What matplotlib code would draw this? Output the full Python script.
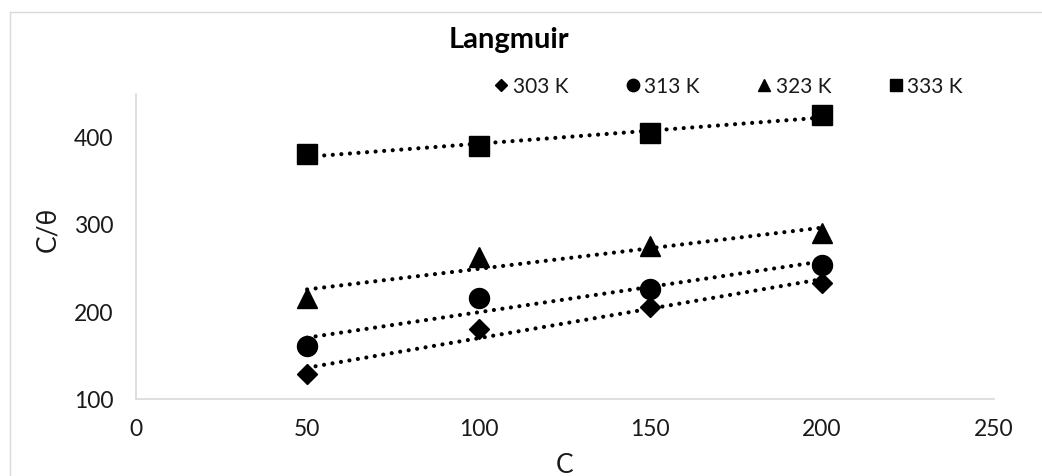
import numpy as np
import matplotlib
matplotlib.use('Agg')
import matplotlib.pyplot as plt
from matplotlib.lines import Line2D

plt.rcParams['font.family'] = ['Lato', 'DejaVu Sans']

conc = [50, 100, 150, 200]
series_labels = ['303 K', '313 K', '323 K', '333 K']
series_markers = ['D', 'o', '^', 's']
series_msize = [10.2, 14.4, 14.4, 14.4]
c_theta = [
    [128, 180, 205, 232],
    [160, 215, 226, 253],
    [215, 262, 275, 289],
    [379, 389, 403, 424],
]
x_ticks = [0, 50, 100, 150, 200, 250]
y_ticks = [100, 200, 300, 400]

W, H = 1042, 477
fig = plt.figure(figsize=(W / 100, H / 100), dpi=100)

# chart area border (top and left edges visible)
grey = '#D9D9D9'
fig.add_artist(Line2D([10 / W, 10 / W], [0, 1 - 13 / H], color=grey, lw=1.0,
                      transform=fig.transFigure))
fig.add_artist(Line2D([10 / W, 1], [1 - 13 / H, 1 - 13 / H], color=grey, lw=1.0,
                      transform=fig.transFigure))

left, right = 135.5 / W, 993.5 / W
bottom, top = 1 - 400 / H, 1 - 95 / H
ax = fig.add_axes([left, bottom, right - left, top - bottom])

for idx, lab in enumerate(series_labels):
    ys = c_theta[idx]
    ax.plot(conc, ys, linestyle='none', marker=series_markers[idx],
            markersize=series_msize[idx], color='black', label=lab, zorder=3)
    # linear trendline
    k, b = np.polyfit(conc, ys, 1)
    xs = np.array([conc[0], conc[-1]])
    ax.plot(xs, k * xs + b, color='black', lw=3.0,
            linestyle=(0, (0.01, 2.05)), dash_capstyle='round', zorder=2)

ax.set_xlim(0, 250)
ax.set_ylim(100, 448)
ax.set_xticks(x_ticks)
ax.set_yticks(y_ticks)
ax.tick_params(length=0, labelsize=16.5, colors='#1a1a1a')
ax.tick_params(axis='x', pad=14)
ax.tick_params(axis='y', pad=16)
for s in ['top', 'right']:
    ax.spines[s].set_visible(False)
for s in ['left', 'bottom']:
    ax.spines[s].set_color(grey)
    ax.spines[s].set_linewidth(1.2)

ax.set_xlabel('C', fontsize=19, color='#1a1a1a')
ax.set_ylabel('C/θ', fontsize=19, color='#1a1a1a')
ax.xaxis.set_label_coords(0.5, -0.175)
ax.yaxis.set_label_coords(-0.088, 0.559)

fig.text(509 / W, 1 - 40 / H, 'Langmuir', ha='center', va='center',
         fontsize=21, fontweight='bold', color='black')

leg = ax.legend(loc='center', bbox_to_anchor=(729 / W, 1 - 87 / H),
                bbox_transform=fig.transFigure, ncol=4, frameon=False,
                markerscale=0.62, fontsize=15, handlelength=0.6,
                handletextpad=0.25, columnspacing=2.8)
for t in leg.get_texts():
    t.set_color('#1a1a1a')

fig.savefig('out.png', dpi=100)
